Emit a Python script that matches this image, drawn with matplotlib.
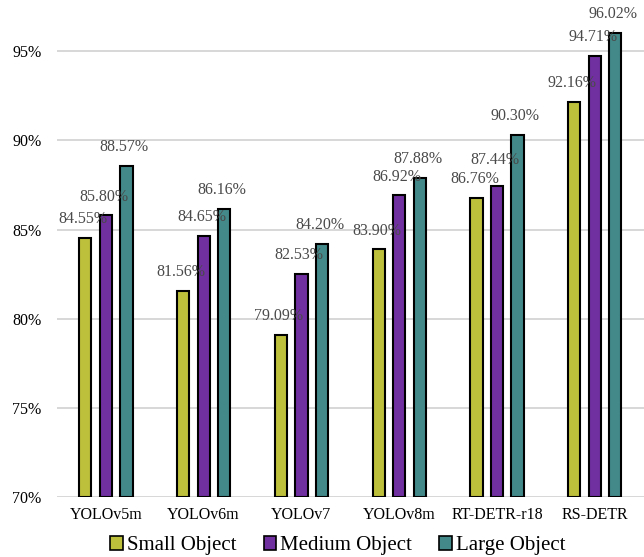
import numpy as np
import matplotlib
matplotlib.use("Agg")
import matplotlib.pyplot as plt
from matplotlib.patches import Patch

models = ["YOLOv5m", "YOLOv6m", "YOLOv7", "YOLOv8m", "RT-DETR-r18", "RS-DETR"]
small = [84.55, 81.56, 79.09, 83.90, 86.76, 92.16]
medium = [85.80, 84.65, 82.53, 86.92, 87.44, 94.71]
large = [88.57, 86.16, 84.20, 87.88, 90.30, 96.02]
series = ["Small Object", "Medium Object", "Large Object"]
yticks = [70, 75, 80, 85, 90, 95]

colors = ["#BDC03A", "#7030A0", "#43898A"]

plt.rcParams['font.family'] = ['Liberation Serif', 'DejaVu Serif']

fig = plt.figure(figsize=(6.44, 5.57), dpi=100)
ax = fig.add_axes([0.0885, 0.107, 0.911, 0.893])

x = np.arange(len(models))
w = 0.125
offs = [-0.21, 0.0, 0.21]
for k, (vals, off, c) in enumerate(zip([small, medium, large], offs, colors)):
    ax.bar(x + off, [v - 70 for v in vals], w, bottom=70, color=c,
           edgecolor="black", linewidth=1.5, zorder=3)
    for i, (xi, v) in enumerate(zip(x + off, vals)):
        dy = 10.5
        # label moved up a bit in the original so it clears its neighbour
        if models[i] == "RT-DETR-r18" and k == 1:
            dy = 16
        ax.annotate("%.2f%%" % v, (xi, v), xytext=(-1.5, dy), textcoords="offset points",
                    ha="center", va="baseline", fontsize=11.5, color="#4a4a4a", zorder=4)

ax.set_xlim(-0.5, len(models) - 0.5)
ax.set_ylim(70, 97.85)
ax.set_yticks(yticks)
ax.set_yticklabels(["%d%%" % t for t in yticks])
ax.set_xticks(x)
ax.set_xticklabels(models)
ax.tick_params(axis="both", length=0, labelsize=11.5)
ax.tick_params(axis="y", pad=11)
ax.tick_params(axis="x", pad=7)
ax.grid(axis="y", color="#D4D4D4", linewidth=1.3, zorder=0)
for s in ax.spines.values():
    s.set_visible(False)

handles = [Patch(facecolor=c, edgecolor="black", linewidth=1.2) for c in colors]
fig.legend(handles, series, loc="center", bbox_to_anchor=(338 / 644, 0.02),
           ncol=3, frameon=False, fontsize=15, handlelength=0.6, handleheight=0.6,
           handletextpad=0.2, columnspacing=1.3, borderpad=0)

fig.savefig("out.png", dpi=100)
